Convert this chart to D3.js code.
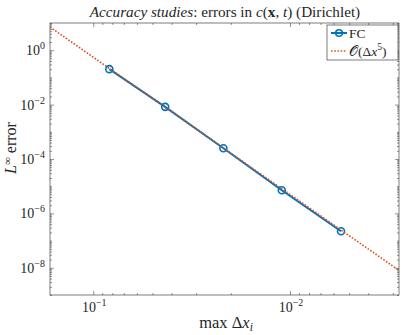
<!DOCTYPE html>
<html>
<head>
<meta charset="utf-8">
<script src="https://cdn.jsdelivr.net/npm/d3@7"></script>
<style>
  body { margin: 0; background: #fff; }
  text { font-family: "Liberation Serif", "DejaVu Serif", serif; fill: #262626; }
</style>
</head>
<body>
<svg id="chart" width="403" height="335"></svg>
<script>
// grid spacing vs max error (FC scheme)
const dx = [0.0829, 0.0431, 0.0218, 0.0110, 0.0055];
const errFC = [0.201, 8.26e-3, 2.49e-4, 7.1e-6, 2.2e-7];
// reference slope line, endpoints
const refDx = [0.166, 0.00279];
const refErr = [7.1, 8e-9];
// labelled ticks
const xTickVals = [1e-1, 1e-2];
const xTickExp = ["\u22121", "\u22122"];
const yTickVals = [1e0, 1e-2, 1e-4, 1e-6, 1e-8];
const yTickExp = ["0", "\u22122", "\u22124", "\u22126", "\u22128"];

const blue = "#0072BD", orange = "#D95319", axisCol = "#262626";
const pLeft = 50, pRight = 399, pTop = 23, pBottom = 295;

const svg = d3.select("#chart");

const x = d3.scaleLog().domain([0.166, 0.00279]).range([pLeft, pRight]);
const y = d3.scaleLog().domain([1e-9, 1e1]).range([pBottom, pTop]);

// minor ticks: every k*10^n inside the domain that isn't a labelled tick
function minorTicks(scale, major) {
  const [a, b] = d3.extent(scale.domain());
  const out = [];
  for (let e = Math.floor(Math.log10(a)); e <= Math.ceil(Math.log10(b)); e++) {
    for (let k = 1; k <= 9; k++) {
      const v = k * Math.pow(10, e);
      if (v >= a && v <= b && !major.some(m => Math.abs(m - v) / v < 1e-9)) out.push(v);
    }
  }
  return out;
}
const xMinor = minorTicks(x, xTickVals);
const yMinor = minorTicks(y, yTickVals);

function drawAxis(axisFn, scale, pos, vals, size) {
  svg.append("g")
    .attr("transform", pos)
    .call(axisFn(scale).tickValues(vals).tickSize(-size).tickSizeOuter(0).tickFormat(""))
    .call(g => g.select(".domain").remove())
    .call(g => g.selectAll("line").attr("stroke", axisCol).attr("stroke-width", 0.5));
}
drawAxis(d3.axisBottom, x, `translate(0,${pBottom})`, xTickVals, 4);
drawAxis(d3.axisBottom, x, `translate(0,${pBottom})`, xMinor, 2);
drawAxis(d3.axisTop, x, `translate(0,${pTop})`, xTickVals, 4);
drawAxis(d3.axisTop, x, `translate(0,${pTop})`, xMinor, 2);
drawAxis(d3.axisLeft, y, `translate(${pLeft},0)`, yTickVals, 4);
drawAxis(d3.axisLeft, y, `translate(${pLeft},0)`, yMinor, 2);
drawAxis(d3.axisRight, y, `translate(${pRight},0)`, yTickVals, 4);
drawAxis(d3.axisRight, y, `translate(${pRight},0)`, yMinor, 2);

svg.append("rect")
  .attr("x", pLeft).attr("y", pTop)
  .attr("width", pRight - pLeft).attr("height", pBottom - pTop)
  .attr("fill", "none").attr("stroke", axisCol).attr("stroke-width", 0.6);

// tick labels with superscripts
xTickVals.forEach((v, i) => {
  const t = svg.append("text")
    .attr("x", x(v) + 1).attr("y", 312)
    .attr("text-anchor", "middle")
    .attr("font-size", 14);
  t.append("tspan").text("10");
  t.append("tspan").attr("dy", -6).attr("font-size", 10).text(xTickExp[i]);
});
yTickVals.forEach((v, i) => {
  const t = svg.append("text")
    .attr("x", 45).attr("y", y(v) + 5)
    .attr("text-anchor", "end")
    .attr("font-size", 14);
  t.append("tspan").text("10");
  t.append("tspan").attr("dy", -6).attr("font-size", 10).text(yTickExp[i]);
});

// data
svg.append("clipPath").attr("id", "plotclip")
  .append("rect").attr("x", pLeft).attr("y", pTop)
  .attr("width", pRight - pLeft).attr("height", pBottom - pTop);

const line = d3.line().x(d => x(d[0])).y(d => y(d[1]));
const fcPts = d3.zip(dx, errFC);
const refPts = d3.zip(refDx, refErr);

const plot = svg.append("g").attr("clip-path", "url(#plotclip)");
plot.append("path")
  .attr("d", line(fcPts))
  .attr("fill", "none").attr("stroke", blue).attr("stroke-width", 2);
plot.selectAll("circle.fc")
  .data(fcPts)
  .enter().append("circle")
  .attr("class", "fc")
  .attr("cx", d => x(d[0])).attr("cy", d => y(d[1]))
  .attr("r", 3.5)
  .attr("fill", "none").attr("stroke", blue).attr("stroke-width", 1.6);
plot.append("path")
  .attr("d", line(refPts))
  .attr("fill", "none").attr("stroke", orange).attr("stroke-width", 1.6)
  .attr("stroke-dasharray", "1.6,1.6");

// legend
const lg = svg.append("g");
lg.append("rect")
  .attr("x", 327).attr("y", 25).attr("width", 71).attr("height", 35)
  .attr("fill", "#fff").attr("stroke", axisCol).attr("stroke-width", 0.6);
lg.append("line")
  .attr("x1", 331).attr("x2", 347).attr("y1", 33).attr("y2", 33)
  .attr("stroke", blue).attr("stroke-width", 2);
lg.append("circle")
  .attr("cx", 339).attr("cy", 33).attr("r", 3.3)
  .attr("fill", "none").attr("stroke", blue).attr("stroke-width", 1.6);
lg.append("text").attr("x", 349).attr("y", 37.5).attr("font-size", 13.5).text("FC");
lg.append("line")
  .attr("x1", 331).attr("x2", 347).attr("y1", 51).attr("y2", 51)
  .attr("stroke", orange).attr("stroke-width", 1.6).attr("stroke-dasharray", "1.6,1.6");
const lt = lg.append("text").attr("x", 349).attr("y", 55.5).attr("font-size", 13.5);
lt.append("tspan").text("\uD835\uDCAA(\u0394");
lt.append("tspan").attr("font-style", "italic").text("x");
lt.append("tspan").attr("dy", -6).attr("font-size", 9.5).text("5");
lt.append("tspan").attr("dy", 6).text(")");

// title
const title = svg.append("text")
  .attr("x", 225).attr("y", 17)
  .attr("text-anchor", "middle").attr("font-size", 15.2);
title.append("tspan").attr("font-style", "italic").text("Accuracy studies");
title.append("tspan").text(": errors in ");
title.append("tspan").attr("font-style", "italic").text("c");
title.append("tspan").text("(");
title.append("tspan").attr("font-weight", "bold").text("x");
title.append("tspan").text(", ");
title.append("tspan").attr("font-style", "italic").text("t");
title.append("tspan").text(") (Dirichlet)");

// axis labels
const xl = svg.append("text")
  .attr("x", 226).attr("y", 328)
  .attr("text-anchor", "middle").attr("font-size", 16.5);
xl.append("tspan").text("max \u0394");
xl.append("tspan").attr("font-style", "italic").text("x");
xl.append("tspan").attr("font-style", "italic").attr("dy", 3).attr("font-size", 11.5).text("i");

const yl = svg.append("text")
  .attr("transform", "translate(16,148) rotate(-90)")
  .attr("text-anchor", "middle").attr("font-size", 16);
yl.append("tspan").attr("font-style", "italic").text("L");
yl.append("tspan").attr("dy", -5).attr("font-size", 11).text("\u221E");
yl.append("tspan").attr("dy", 5).text(" error");
</script>
</body>
</html>
